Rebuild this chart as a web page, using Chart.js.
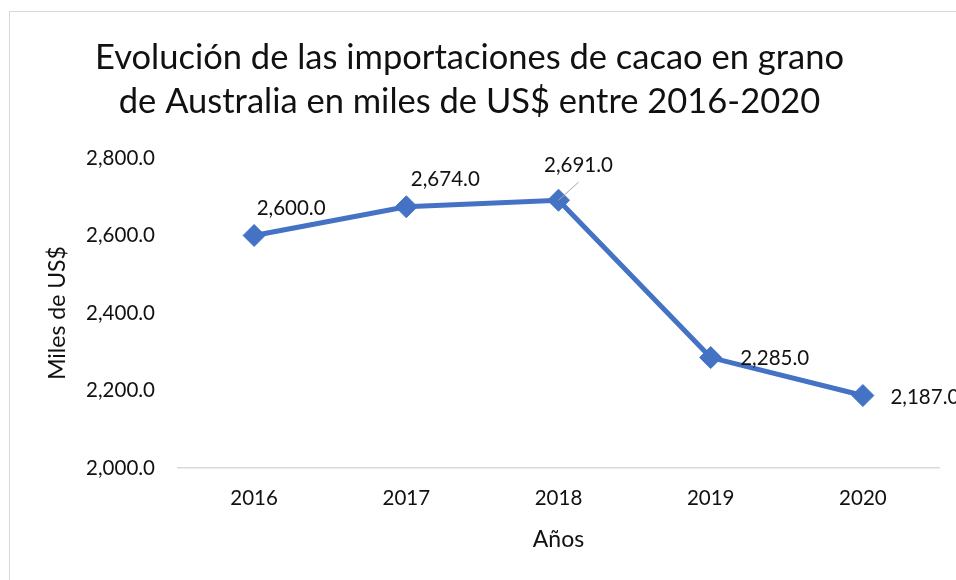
<!DOCTYPE html>
<html>
<head>
<meta charset="utf-8">
<script src="https://cdn.jsdelivr.net/npm/chart.js@4"></script>
<style>
  body { margin: 0; background: #fff; }
  #wrap { position: relative; width: 956px; height: 580px; overflow: hidden; }
</style>
</head>
<body>
<div id="wrap"><canvas id="chartCanvas" width="956" height="580"></canvas></div>
<script>
const years = ["2016", "2017", "2018", "2019", "2020"];
const imports = [2600, 2674, 2691, 2285, 2187];
const yTicks = [2000, 2200, 2400, 2600, 2800];

const titleLines = ["Evolución de las importaciones de cacao en grano", "de Australia en miles de US$ entre 2016-2020"];
const yTitle = "Miles de US$";
const xTitle = "Años";

// where each value label sits relative to its point (dx, dy), and whether it gets a leader line
const labelOffsets = [[37, -27], [39, -27], [20, -35], [64, 1], [62, 2]];
const leaderLines = [false, false, true, false, false];

const FONT = "Lato, 'Open Sans', sans-serif";
const blue = "#4472C4";

function fmt(v){
    return v.toLocaleString("en-US", {minimumFractionDigits: 1, maximumFractionDigits: 1});
}

const frame = {
    id: "frame",
    beforeDraw(chart){
        const ctx = chart.ctx;
        ctx.save();
        ctx.fillStyle = "#fff";
        ctx.fillRect(0, 0, chart.width, chart.height);
        ctx.strokeStyle = "#d9d9d9";
        ctx.lineWidth = 1;
        ctx.strokeRect(9.5, 11.5, 1000, 1000);
        ctx.restore();
    }
};

const valueLabels = {
    id: "valueLabels",
    afterDatasetsDraw(chart){
        const ctx = chart.ctx;
        const meta = chart.getDatasetMeta(0);
        ctx.save();
        ctx.font = "20.5px " + FONT;
        ctx.fillStyle = "#111";
        ctx.textAlign = "center";
        ctx.textBaseline = "middle";
        meta.data.forEach((pt, i) => {
            const [dx, dy] = labelOffsets[i];
            if(leaderLines[i]){
                ctx.strokeStyle = "#a6a6a6";
                ctx.lineWidth = 1;
                ctx.beginPath();
                ctx.moveTo(pt.x + dx, pt.y + dy + 17);
                ctx.lineTo(pt.x, pt.y);
                ctx.stroke();
            }
            ctx.fillText(fmt(imports[i]), pt.x + dx, pt.y + dy);
        });
        ctx.restore();
    }
};

new Chart(document.getElementById("chartCanvas"), {
    type: "line",
    data: {
        labels: years,
        datasets: [{
            data: imports,
            borderColor: blue,
            backgroundColor: blue,
            borderWidth: 5,
            pointStyle: "rectRot",
            pointRadius: 11,
            pointHoverRadius: 11,
            pointBorderWidth: 1,
            pointBorderColor: blue,
            pointBackgroundColor: blue,
            tension: 0
        }]
    },
    options: {
        responsive: false,
        animation: false,
        events: [],
        layout: { padding: { left: 0, right: 17, top: 0, bottom: 0 } },
        plugins: {
            legend: { display: false },
            tooltip: { enabled: false },
            title: {
                display: true,
                text: titleLines,
                color: "#111",
                font: { family: FONT, size: 34.5, weight: "normal", lineHeight: 1.275 },
                padding: { top: 36, bottom: 34 }
            }
        },
        scales: {
            x: {
                offset: true,
                grid: { display: false, drawTicks: false },
                border: { display: true, color: "#d9d9d9", width: 1.5 },
                ticks: { color: "#111", font: { family: FONT, size: 20.5 }, padding: 18 },
                title: {
                    display: true, text: xTitle, color: "#111",
                    font: { family: FONT, size: 23 }, padding: { top: 14, bottom: 27 }
                },
                afterFit(scale){ scale.height = 112; }
            },
            y: {
                min: 2000,
                max: 2800,
                afterBuildTicks(scale){ scale.ticks = yTicks.map(v => ({value: v})); },
                grid: { display: false, drawTicks: false },
                border: { display: false },
                ticks: { color: "#111", font: { family: FONT, size: 20.5 }, padding: 23, callback: (v) => fmt(v) },
                title: {
                    display: true, text: yTitle, color: "#111",
                    font: { family: FONT, size: 23 }, padding: { top: 44, bottom: 0 }
                },
                afterFit(scale){ scale.width = 178; }
            }
        }
    },
    plugins: [frame, valueLabels]
});
</script>
</body>
</html>
